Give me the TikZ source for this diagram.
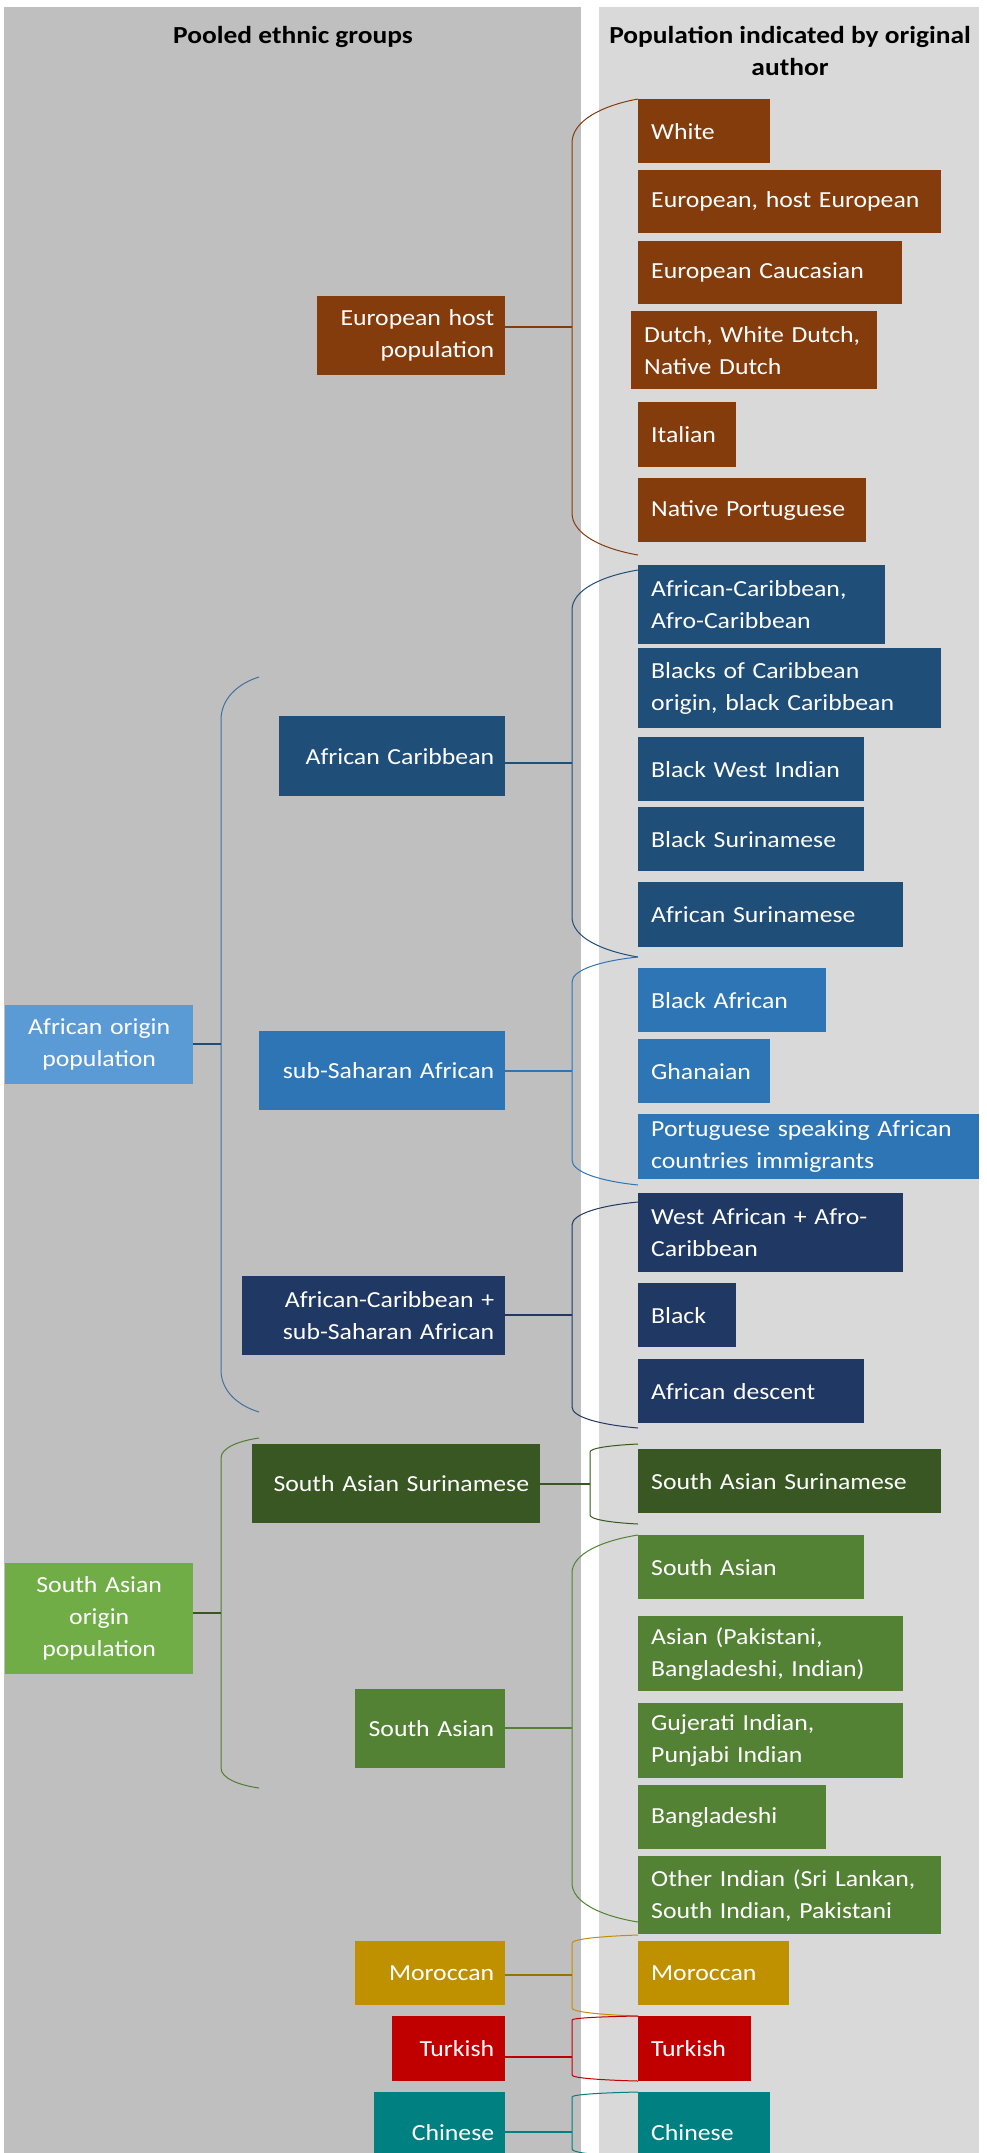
\documentclass[tikz,border=0pt]{standalone}
\usepackage{fontspec}
\setmainfont{Carlito}[FakeStretch=1.12]
\definecolor{panelL}{HTML}{BFBFBF}
\definecolor{panelR}{HTML}{D9D9D9}
\definecolor{eu}{HTML}{843C0C}
\definecolor{afc}{HTML}{1F4E79}
\definecolor{ssa}{HTML}{2E75B6}
\definecolor{afo}{HTML}{5B9BD5}
\definecolor{comb}{HTML}{203864}
\definecolor{sasur}{HTML}{385723}
\definecolor{sa}{HTML}{548235}
\definecolor{sao}{HTML}{70AD47}
\definecolor{mor}{HTML}{BF9000}
\definecolor{tur}{HTML}{C00000}
\definecolor{chi}{HTML}{008080}
\definecolor{afoline}{HTML}{41719C}
\definecolor{saoline}{HTML}{507E32}
\newcommand{\brc}[7]{\draw[#1, line width=1pt] (#3,#4) .. controls ({#2+0.45*(#3-#2)},{#4+0.15*(#5-#4)}) and (#2,{#4+0.5*(#5-#4)}) .. (#2,#5) -- (#2,#6) .. controls (#2,{#7-0.5*(#7-#6)}) and ({#2+0.45*(#3-#2)},{#7-0.15*(#7-#6)}) .. (#3,#7);}
\begin{document}
\begin{tikzpicture}[x=1pt,y=-1pt,
  every node/.style={font=\fontsize{23}{32}\selectfont},
  rb/.style={text=white, inner xsep=13pt, inner ysep=0pt, align=left, anchor=north west},
  mb/.style={text=white, inner xsep=11pt, inner ysep=0pt, align=right, anchor=north west},
  lb/.style={text=white, inner xsep=4pt, inner ysep=0pt, align=center, anchor=north west},
  conn/.style={line width=1.3pt},
  title/.style={font=\fontsize{24.5}{32}\selectfont\bfseries, text=black, align=center, anchor=base}]
\useasboundingbox (0,0) rectangle (987,2153);
\fill[white] (0,0) rectangle (987,2153);
\fill[panelL] (4,7) rectangle (581,2153);
\fill[panelR] (599,7) rectangle (979,2153);
\node[title] (t1) at (293,43) {Pooled ethnic groups};
\node[title] (t2) at (790,75) {Population indicated by original\\author};
% braces
\brc{eu}{572}{638}{99}{143}{513}{555}
\brc{afc}{572}{638}{570}{610}{917}{957}
\brc{ssa}{572}{638}{957}{982}{1160}{1185}
\brc{comb}{572}{638}{1202}{1225}{1407}{1428}
\brc{sasur}{590}{638}{1444}{1452}{1515}{1524}
\brc{sa}{572}{638}{1535}{1573}{1883}{1922}
\brc{mor}{572}{638}{1935}{1943}{2008}{2016}
\brc{tur}{572}{638}{2016}{2020}{2075}{2081}
\brc{chi}{572}{638}{2092}{2097}{2149}{2157}
\brc{afoline}{221}{259}{677}{720}{1370}{1412}
\brc{saoline}{221}{259}{1438}{1458}{1768}{1788}
\coordinate (c1) at (572,327);
\coordinate (c2) at (572,763);
\coordinate (c3) at (572,1071);
\coordinate (c4) at (572,1315);
\coordinate (c5) at (590,1484);
\coordinate (c6) at (572,1728);
\coordinate (c7) at (572,1975);
\coordinate (c8) at (572,2057);
\coordinate (c9) at (572,2132);
\coordinate (c10) at (221,1044);
\coordinate (c11) at (221,1613);
% right column
\node[rb, fill=eu, text width=106pt, minimum height=64pt] (white) at (638,99) {White};
\node[rb, fill=eu, text width=277pt, minimum height=63pt] (euh) at (638,170) {European, host European};
\node[rb, fill=eu, text width=238pt, minimum height=63pt] (euc) at (638,241) {European Caucasian};
\node[rb, fill=eu, text width=220pt, minimum height=78pt] (dutch) at (631,311) {Dutch, White Dutch,\\Native Dutch};
\node[rb, fill=eu, text width=72pt, minimum height=65pt] (ital) at (638,402) {Italian};
\node[rb, fill=eu, text width=202pt, minimum height=64pt] (natp) at (638,478) {Native Portuguese};
\node[rb, fill=afc, text width=221pt, minimum height=79pt] (afcr) at (638,565) {African-Caribbean,\\Afro-Caribbean};
\node[rb, fill=afc, text width=277pt, minimum height=80pt] (blc) at (638,648) {Blacks of Caribbean\\origin, black Caribbean};
\node[rb, fill=afc, text width=200pt, minimum height=64pt] (bwi) at (638,737) {Black West Indian};
\node[rb, fill=afc, text width=200pt, minimum height=64pt] (bsur) at (638,807) {Black Surinamese};
\node[rb, fill=afc, text width=239pt, minimum height=65pt] (asur) at (638,882) {African Surinamese};
\node[rb, fill=ssa, text width=162pt, minimum height=64pt] (blaf) at (638,968) {Black African};
\node[rb, fill=ssa, text width=106pt, minimum height=64pt] (ghan) at (638,1039) {Ghanaian};
\node[rb, fill=ssa, text width=315pt, minimum height=65pt] (port) at (638,1114) {Portuguese speaking African\\countries immigrants};
\node[rb, fill=comb, text width=239pt, minimum height=79pt] (waf) at (638,1193) {West African + Afro-\\Caribbean};
\node[rb, fill=comb, text width=72pt, minimum height=64pt] (black) at (638,1283) {Black};
\node[rb, fill=comb, text width=200pt, minimum height=64pt] (adesc) at (638,1359) {African descent};
\node[rb, fill=sasur, text width=277pt, minimum height=64pt] (sasr) at (638,1449) {South Asian Surinamese};
\node[rb, fill=sa, text width=200pt, minimum height=64pt] (sar) at (638,1535) {South Asian};
\node[rb, fill=sa, text width=239pt, minimum height=75pt] (asian) at (638,1616) {Asian (Pakistani,\\Bangladeshi, Indian)};
\node[rb, fill=sa, text width=239pt, minimum height=75pt] (guj) at (638,1703) {Gujerati Indian,\\Punjabi Indian};
\node[rb, fill=sa, text width=162pt, minimum height=64pt] (bang) at (638,1785) {Bangladeshi};
\node[rb, fill=sa, text width=277pt, minimum height=78pt] (oth) at (638,1856) {Other Indian (Sri Lankan,\\South Indian, Pakistani};
\node[rb, fill=mor, text width=125pt, minimum height=64pt] (morr) at (638,1941) {Moroccan};
\node[rb, fill=tur, text width=87pt, minimum height=65pt] (turr) at (638,2016) {Turkish};
\node[rb, fill=chi, text width=106pt, minimum height=80pt] (chir) at (638,2092) {Chinese};
% middle column
\node[mb, fill=eu, text width=166pt, minimum height=79pt] (euhp) at (317,296) {European host\\population};
\node[mb, fill=afc, text width=204pt, minimum height=80pt] (afcm) at (279,716) {African Caribbean};
\node[mb, fill=ssa, text width=224pt, minimum height=79pt] (ssam) at (259,1031) {sub-Saharan African};
\node[mb, fill=comb, text width=241pt, minimum height=79pt] (combm) at (242,1276) {African-Caribbean +\\sub-Saharan African};
\node[mb, fill=sasur, text width=266pt, minimum height=79pt] (sasm) at (252,1444) {South Asian Surinamese};
\node[mb, fill=sa, text width=128pt, minimum height=79pt] (sam) at (355,1689) {South Asian};
\node[mb, fill=mor, text width=128pt, minimum height=64pt] (morm) at (355,1941) {Moroccan};
\node[mb, fill=tur, text width=91pt, minimum height=65pt] (turm) at (392,2016) {Turkish};
\node[mb, fill=chi, text width=109pt, minimum height=80pt] (chim) at (374,2092) {Chinese};
% left column
\node[lb, fill=afo, text width=180pt, minimum height=79pt] (afol) at (5,1005) {African origin\\population};
\node[lb, fill=sao, text width=180pt, minimum height=111pt] (saol) at (5,1563) {South Asian\\origin\\population};
% connectors
\draw[conn, eu] (euhp.east |- c1) -- (c1);
\draw[conn, afc] (afcm.east |- c2) -- (c2);
\draw[conn, ssa] (ssam.east |- c3) -- (c3);
\draw[conn, comb] (combm.east |- c4) -- (c4);
\draw[conn, sasur] (sasm.east |- c5) -- (c5);
\draw[conn, sa] (sam.east |- c6) -- (c6);
\draw[conn, mor!80!black] (morm.east |- c7) -- (c7);
\draw[conn, tur] (turm.east |- c8) -- (c8);
\draw[conn, chi] (chim.east |- c9) -- (c9);
\draw[conn, afc] (afol.east |- c10) -- (c10);
\draw[conn, sasur] (saol.east |- c11) -- (c11);
\end{tikzpicture}
\end{document}
